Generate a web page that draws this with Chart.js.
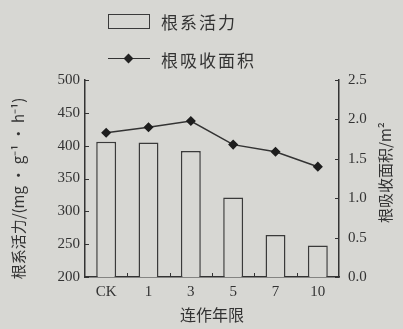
<!DOCTYPE html>
<html>
<head>
<meta charset="utf-8">
<script src="https://cdn.jsdelivr.net/npm/chart.js@4"></script>
<style>
  html, body { margin: 0; padding: 0; background: #d7d7d3; }
  #wrap { position: relative; width: 403px; height: 329px; }
  #legend { position: absolute; left: 108px; top: 10px; font-family: "Noto Sans CJK SC", sans-serif;
            font-size: 17px; color: #333; letter-spacing: 2px; }
  .item { display: flex; align-items: center; height: 22px; margin-bottom: 16px; }
  .box { width: 42px; height: 15px; border: 1.5px solid #3a3a3a; margin-right: 11px; box-sizing: border-box; }
  .ln { position: relative; width: 42px; height: 14px; margin-right: 11px; }
  .ln::before { content: ""; position: absolute; left: 0; right: 0; top: 6px; border-top: 1.5px solid #333; }
  .ln::after { content: ""; position: absolute; left: 17px; top: 3px; width: 7px; height: 7px; background: #222; transform: rotate(45deg); }
</style>
</head>
<body>
<div id="wrap">
  <canvas id="chart" width="403" height="329"></canvas>
  <div id="legend">
    <div class="item"><span class="box"></span>根系活力</div>
    <div class="item"><span class="ln"></span>根吸收面积</div>
  </div>
</div>
<script>
// 数据
const years = ["CK", "1", "3", "5", "7", "10"];
const rootActivity = [406, 405, 392, 321, 264, 248];      // 根系活力 mg·g-1·h-1
const rootArea = [1.83, 1.90, 1.98, 1.68, 1.59, 1.40];   // 根吸收面积 m2
const leftTicks = [200, 250, 300, 350, 400, 450, 500];
const rightTicks = [0.0, 0.5, 1.0, 1.5, 2.0, 2.5];

const ink = "#333";
const bg = "#d7d7d3";
const numFont = { family: "Liberation Serif", size: 15 };

// 内向刻度线 + 两侧纵轴标题
const extras = {
  id: "extras",
  afterDraw(chart) {
    const ctx = chart.ctx;
    const area = chart.chartArea;
    const x = chart.scales.x, y = chart.scales.y, y1 = chart.scales.y1;
    ctx.save();
    ctx.strokeStyle = ink;
    ctx.lineWidth = 1;
    leftTicks.forEach(v => {
      const py = Math.round(y.getPixelForValue(v)) + 0.5;
      ctx.beginPath(); ctx.moveTo(area.left, py); ctx.lineTo(area.left + 4, py); ctx.stroke();
    });
    rightTicks.forEach(v => {
      const py = Math.round(y1.getPixelForValue(v)) + 0.5;
      ctx.beginPath(); ctx.moveTo(area.right, py); ctx.lineTo(area.right - 4, py); ctx.stroke();
    });
    for (let i = 0; i < years.length - 1; i++) {
      const px = Math.round((x.getPixelForValue(i) + x.getPixelForValue(i + 1)) / 2) + 0.5;
      ctx.beginPath(); ctx.moveTo(px, area.bottom); ctx.lineTo(px, area.bottom - 4); ctx.stroke();
    }
    ctx.fillStyle = ink;
    ctx.textAlign = "center";
    ctx.textBaseline = "middle";
    ctx.font = '15px "Noto Sans CJK SC"';
    // 左轴标题
    ctx.save();
    ctx.translate(18, (area.top + area.bottom) / 2 + 10);
    ctx.rotate(-Math.PI / 2);
    ctx.fillText("根系活力/(mg · g⁻¹ · h⁻¹)", 0, 0);
    ctx.restore();
    // 右轴标题（自下而上）
    ctx.translate(385, (area.top + area.bottom) / 2 - 6);
    ctx.rotate(-Math.PI / 2);
    ctx.fillText("根吸收面积/m²", 0, 0);
    ctx.restore();
  }
};

const ctx = document.getElementById("chart").getContext("2d");
new Chart(ctx, {
  data: {
    labels: years,
    datasets: [
      {
        type: "line",
        label: "根吸收面积",
        data: rootArea,
        yAxisID: "y1",
        borderColor: "#333",
        borderWidth: 1.5,
        pointStyle: "rectRot",
        pointRadius: 4,
        pointBackgroundColor: "#1e1e1e",
        pointBorderColor: "#1e1e1e",
        tension: 0
      },
      {
        type: "bar",
        label: "根系活力",
        data: rootActivity,
        yAxisID: "y",
        backgroundColor: bg,
        borderColor: "#3a3a3a",
        borderWidth: 1.5,
        barPercentage: 0.47,
        categoryPercentage: 1.0
      }
    ]
  },
  options: {
    responsive: false,
    animation: false,
    layout: { padding: { top: 80, left: 0, right: 0, bottom: 0 } },
    plugins: { legend: { display: false }, tooltip: { enabled: false } },
    scales: {
      x: {
        grid: { display: false, drawTicks: false },
        border: { display: true, color: ink, width: 1.5 },
        ticks: { color: ink, font: numFont, padding: 6 },
        title: { display: true, text: "连作年限", color: ink, padding: { top: 0 },
                 font: { family: "Noto Sans CJK SC", size: 16 } },
        afterFit(s) { s.height = 52; }
      },
      y: {
        position: "left",
        min: 200, max: 500,
        grid: { display: false, drawTicks: false },
        border: { display: true, color: ink, width: 1.5 },
        afterBuildTicks(s) { s.ticks = leftTicks.map(v => ({ value: v })); },
        ticks: { color: ink, font: numFont, padding: 5 },
        afterFit(s) { s.width = 85; }
      },
      y1: {
        position: "right",
        min: 0, max: 2.5,
        grid: { display: false, drawTicks: false },
        border: { display: true, color: ink, width: 1.5 },
        afterBuildTicks(s) { s.ticks = rightTicks.map(v => ({ value: v })); },
        ticks: { color: ink, font: numFont, padding: 9, callback: v => Number(v).toFixed(1) },
        afterFit(s) { s.width = 64; }
      }
    }
  },
  plugins: [extras]
});
</script>
</body>
</html>
